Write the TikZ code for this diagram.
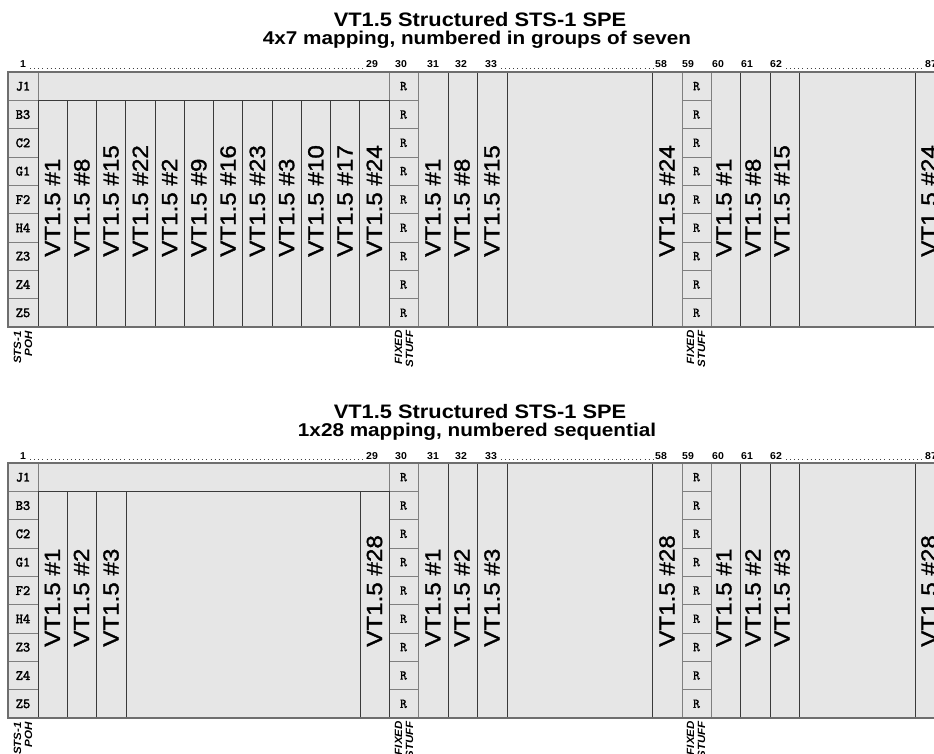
\documentclass[tikz,border=0pt]{standalone}
\usepackage{fontspec}
\setmainfont{Liberation Sans}
\newfontfamily\pohfont{Latin Modern Mono}[FakeBold=2.5]
\newfontfamily\stufffont{Latin Modern Mono}[FakeBold=0.8]
\newfontfamily\vtfont{Liberation Sans}[FakeBold=1.2]
\definecolor{spefill}{HTML}{E6E6E6}
\definecolor{gridline}{HTML}{7F7F7F}
\definecolor{vtline}{HTML}{3A3A3A}
\definecolor{frameline}{HTML}{6E6E6E}

\begin{document}
\begin{tikzpicture}[x=1pt, y=-1pt,
  pohcell/.style={draw=gridline, line width=0.9pt},
  vtcol/.style={draw=vtline, line width=0.8pt},
  frame/.style={draw=frameline, line width=1.5pt},
  pohtxt/.style={inner sep=0pt, font=\pohfont\fontsize{14}{14}\selectfont},
  rtxt/.style={inner sep=0pt, font=\stufffont\fontsize{13.5}{14}\selectfont},
  vt/.style={rotate=90, xscale=1.1, anchor=west, inner sep=0pt, font=\vtfont\fontsize{22}{22}\selectfont},
  colnum/.style={anchor=base, inner sep=0pt, xscale=1.05, font=\bfseries\fontsize{10}{10}\selectfont},
  dotline/.style={draw=black!75, line width=0.8pt, dash pattern=on 0.8pt off 3.3pt},
  note/.style={rotate=90, xscale=1.1, anchor=east, align=right, inner sep=0pt,
    font=\bfseries\itshape\fontsize{10.5}{11}\selectfont},
  head/.style={anchor=base, inner sep=0pt, xscale=1.12, font=\bfseries\fontsize{19.5}{20}\selectfont},
  subhead/.style={anchor=base, inner sep=0pt, xscale=1.12, font=\bfseries\fontsize{18.5}{19}\selectfont}]
  \useasboundingbox (0,0) rectangle (934,754);
  \clip (0,0) rectangle (934,754);

  % the two frames share everything but the numbering
  \foreach \oy/\tag/\sub in {0/a/{4x7 mapping, numbered in groups of seven}, 391/b/{1x28 mapping, numbered sequential}} {
  \begin{scope}[yshift=-\oy pt]
    \node[head] (head\tag) at (480,27) {VT1.5 Structured STS-1 SPE};
    \node[subhead] (sub\tag) at (477,45) {\sub};
    \fill[spefill] (8,72) rectangle (960,327);
    \foreach \xa/\xb in {418/448,448/477,477/507,507/652,652/682,711/740,740/770,770/799,799/915,915/945}
      \draw[vtcol] (\xa,72) rectangle (\xb,327);
    \draw[vtcol] (38,72) rectangle (389,100.33);
    \foreach \lbl [count=\r from 0] in {J1,B3,C2,G1,F2,H4,Z3,Z4,Z5} {
      \draw[pohcell] (8,72+\r*28.33) rectangle (38,100.33+\r*28.33);
      \node[pohtxt] (poh\tag\lbl) at (23,86.2+\r*28.33) {\lbl};
      \foreach \cx in {389,682} {
        \draw[pohcell] (\cx,72+\r*28.33) rectangle (\cx+29,100.33+\r*28.33);
        \node[rtxt] (stuff\tag\cx-\r) at (\cx+14.5,86.2+\r*28.33) {R};
      }
    }
    \foreach \c/\x in {1/23,29/372,30/401,31/433,32/461,33/491,58/661,59/688,60/718,61/747,62/776,87/931}
      \node[colnum] (num\tag\c) at (\x,68) {\c};
    \draw[dotline] ([xshift=4pt]num\tag1.base east) -- ([xshift=-2pt]num\tag29.base west);
    \draw[dotline] ([xshift=4pt]num\tag33.base east) -- ([xshift=-2pt]num\tag58.base west);
    \draw[dotline] ([xshift=4pt]num\tag62.base east) -- ([xshift=-2pt]num\tag87.base west);
    \node[note] (pohnote\tag) at (23,331) {STS-1\\POH};
    \node[note] (fixa\tag) at (404,330) {FIXED\\STUFF};
    \node[note] (fixb\tag) at (696,330) {FIXED\\STUFF};
  \end{scope}
  }

  % 4x7 mapping
  \foreach \n [count=\i from 0] in {1,8,15,22,2,9,16,23,3,10,17,24} {
    \draw[vtcol] (38+29.25*\i,100.33) rectangle (67.25+29.25*\i,327);
    \node[vt] (vta-\i) at (52.6+29.25*\i,257) {VT1.5 \#\n};
  }
  \foreach \x/\n in {433/1,462/8,492/15,667/24,724/1,753/8,782/15,929/24}
    \node[vt] (vta-\x) at (\x,257) {VT1.5 \#\n};

  % 1x28 mapping
  \begin{scope}[yshift=-391pt]
    \foreach \xa/\xb/\n in {38/67/1,67/96/2,96/126/3,360/389/28} {
      \draw[vtcol] (\xa,100.33) rectangle (\xb,327);
      \node[vt] (vtb-\xa) at ({(\xa+\xb)/2},256) {VT1.5 \#\n};
    }
    \draw[vtcol] (126,100.33) rectangle (360,327);
    \foreach \x/\n in {433/1,462/2,492/3,667/28,724/1,753/2,782/3,929/28}
      \node[vt] (vtb-\x) at (\x,256) {VT1.5 \#\n};
  \end{scope}

  \foreach \oy in {0,391}
    \draw[frame] (8,72+\oy) rectangle (960,327+\oy);
\end{tikzpicture}
\end{document}
